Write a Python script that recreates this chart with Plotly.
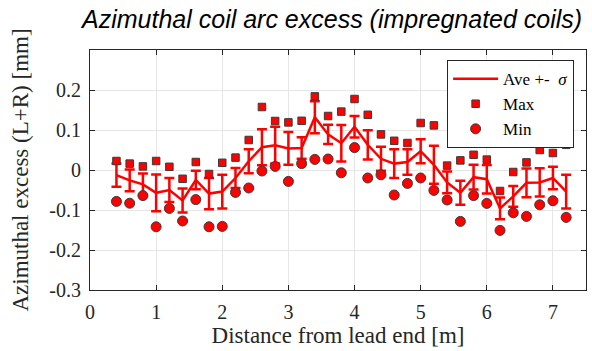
import plotly.graph_objects as go

distance = [0.4, 0.6, 0.8, 1.0, 1.2, 1.4, 1.6, 1.8, 2.0, 2.2, 2.4, 2.6, 2.8, 3.0, 3.2, 3.4, 3.6, 3.8,
            4.0, 4.2, 4.4, 4.6, 4.8, 5.0, 5.2, 5.4, 5.6, 5.8, 6.0, 6.2, 6.4, 6.6, 6.8, 7.0, 7.2]
ave = [-0.013, -0.026, -0.036, -0.057, -0.050, -0.076, -0.025, -0.059, -0.054, -0.020, 0.022, 0.057,
       0.062, 0.054, 0.055, 0.132, 0.089, 0.067, 0.108, 0.063, 0.028, 0.016, 0.020, 0.047, 0.013,
       -0.031, -0.057, -0.018, -0.023, -0.096, -0.066, -0.032, -0.031, -0.020, -0.054]
sigma = [0.029, 0.027, 0.027, 0.046, 0.030, 0.030, 0.023, 0.039, 0.042, 0.025, 0.030, 0.045, 0.046,
         0.041, 0.027, 0.040, 0.024, 0.0455, 0.027, 0.0365, 0.030, 0.036, 0.032, 0.030, 0.0475, 0.027,
         0.030, 0.031, 0.0355, 0.027, 0.026, 0.036, 0.0355, 0.028, 0.042]
vmax = [0.0225, 0.016, 0.009, 0.0225, 0.008, -0.022, 0.020, -0.010, 0.018, 0.031, 0.075, 0.1575,
        0.1225, 0.119, 0.123, 0.184, 0.135, 0.146, 0.1775, 0.138, 0.089, 0.073, 0.0675, 0.1175,
        0.1115, 0.011, 0.024, 0.038, 0.026, -0.0525, -0.005, 0.019, 0.050, 0.0425, 0.063]
vmin = [-0.0785, -0.083, -0.064, -0.142, -0.096, -0.1275, -0.074, -0.142, -0.141, -0.056, -0.045,
        -0.0025, 0.009, -0.0285, 0.016, 0.0265, 0.0275, -0.007, 0.056, -0.020, -0.012, -0.0625,
        -0.0335, -0.020, -0.051, -0.075, -0.1285, -0.064, -0.0835, -0.151, -0.107, -0.116, -0.087,
        -0.077, -0.1185]

xticks = [0, 1, 2, 3, 4, 5, 6, 7]
yticks = [-0.3, -0.2, -0.1, 0, 0.1, 0.2]
ytick_labels = ["-0.3", "-0.2", "-0.1", "0", "0.1", "0.2"]

RED = "#ff0000"
EDGE = "#3a3a3a"
SERIF = "Liberation Serif, Times New Roman, serif"

fig = go.Figure()
fig.add_trace(go.Scatter(
    x=distance, y=ave, mode="lines", name="Ave +-  <i>σ</i>",
    line=dict(color=RED, width=2.5),
    error_y=dict(type="data", array=sigma, visible=True, color=RED, thickness=2.5, width=5),
))
fig.add_trace(go.Scatter(
    x=distance, y=vmax, mode="markers", name="Max",
    marker=dict(symbol="square", size=7.5, color=RED, line=dict(color=EDGE, width=1)),
))
fig.add_trace(go.Scatter(
    x=distance, y=vmin, mode="markers", name="Min",
    marker=dict(symbol="circle", size=10, color=RED, line=dict(color=EDGE, width=1)),
))

axis_common = dict(
    showline=True, linecolor="#262626", linewidth=1, mirror="ticks",
    ticks="inside", ticklen=5, tickcolor="#262626",
    showgrid=True, gridcolor="#e6e6e6", gridwidth=1, zeroline=False,
    tickfont=dict(family=SERIF, size=20, color="#262626"),
)

fig.update_layout(
    width=592, height=351,
    margin=dict(l=90, r=6, t=50, b=61),
    paper_bgcolor="white", plot_bgcolor="white",
    title=dict(text="Azimuthal coil arc excess (impregnated coils)",
               font=dict(family="Liberation Sans, Arial, sans-serif", size=25, color="black", style="italic"),
               x=0.561, xanchor="center", y=0.946, yanchor="middle"),
    xaxis=dict(range=[0, 7.5], tickvals=xticks, ticklabelstandoff=4,
               title=dict(text="Distance from lead end [m]", font=dict(family=SERIF, size=23, color="#262626"), standoff=2),
               **axis_common),
    yaxis=dict(range=[-0.3, 0.3], tickvals=yticks, ticktext=ytick_labels, ticklabelstandoff=4,
               title=dict(text="Azimuthal excess (L+R) [mm]", font=dict(family=SERIF, size=23, color="#262626"), standoff=14),
               **axis_common),
    legend=dict(x=0.976, xanchor="right", y=0.958, yanchor="top",
                bgcolor="white", bordercolor="#262626", borderwidth=1,
                font=dict(family=SERIF, size=17, color="black"),
                tracegroupgap=0, itemwidth=45),
    showlegend=True,
)

fig.write_html("out.html")
